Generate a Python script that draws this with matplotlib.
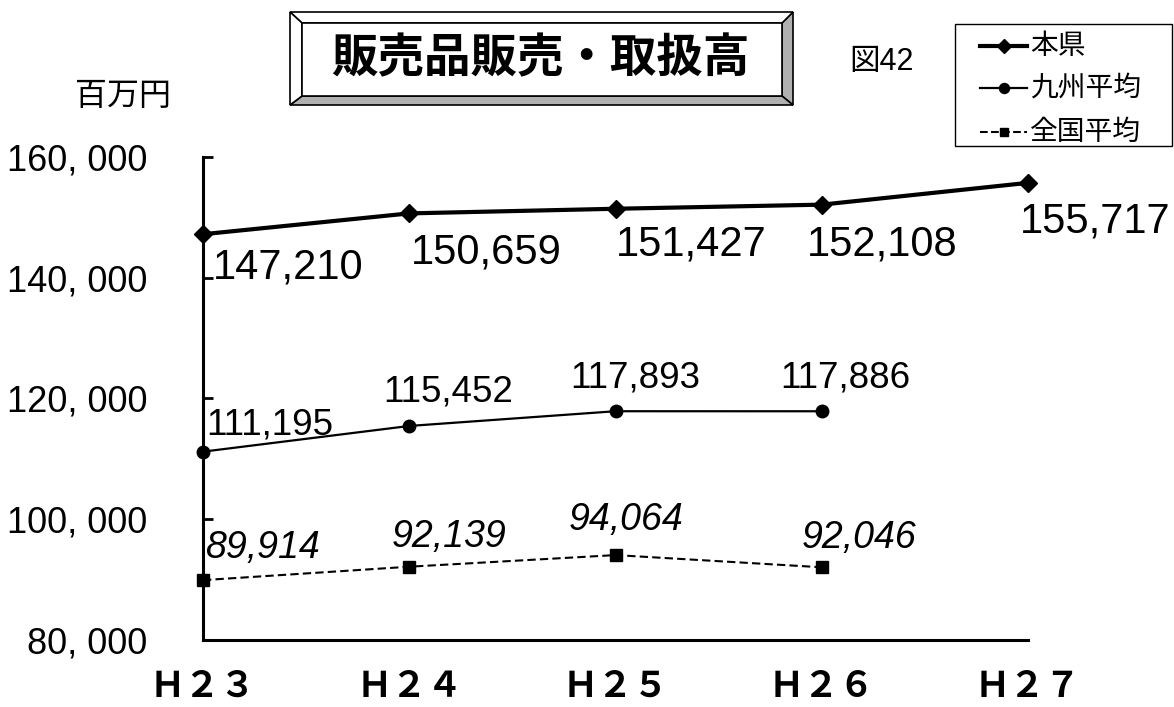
import numpy as np
from matplotlib import pyplot as plt
from matplotlib.lines import Line2D
from matplotlib.patches import Polygon, Rectangle
from matplotlib.ticker import FuncFormatter, FixedLocator

years = ['Ｈ２３', 'Ｈ２４', 'Ｈ２５', 'Ｈ２６', 'Ｈ２７']
honken = [147210, 150659, 151427, 152108, 155717]
kyushu = [111195, 115452, 117893, 117886]
zenkoku = [89914, 92139, 94064, 92046]
y_ticks = [80000, 100000, 120000, 140000, 160000]

series_names = ['本県', '九州平均', '全国平均']

# label offsets in pixels from each point (dx, dy up)
honken_off = [(85, -33), (77, -39), (76, -36), (60, -40), (67, -39)]
kyushu_off = [(67, 27), (39, 34), (20, 33), (24, 33)]
zenkoku_off = [(59, 32), (40, 30), (11, 35), (37, 29)]

W, H = 1174, 707
JP = ['Noto Sans CJK JP', 'DejaVu Sans']
NUM = ['Liberation Sans', 'DejaVu Sans']
NUM_JP = ['Liberation Sans', 'Noto Sans CJK JP', 'DejaVu Sans']

plt.rcParams['font.family'] = NUM
fig = plt.figure(figsize=[W / 100, H / 100], dpi=100)
fig.patch.set_facecolor('w')

x0, x1, y0, y1 = 203, 1028, 640, 157
ax = fig.add_axes([x0 / W, 1 - y0 / H, (x1 - x0) / W, (y0 - y1) / H])
ax.set_xlim(0, 4)
ax.set_ylim(80000, 160000)

x = np.arange(len(years))
l1, = ax.plot(x, honken, c='k', lw=3.0, marker='D', ms=9.5, clip_on=False, zorder=5)
l2, = ax.plot(x[:len(kyushu)], kyushu, c='k', lw=1.6, marker='o', ms=9, clip_on=False, zorder=5)
l3, = ax.plot(x[:len(zenkoku)], zenkoku, c='k', lw=1.5, ls=(0, (4, 2)), marker='s', ms=8,
              clip_on=False, zorder=5)

for i, v in enumerate(honken):
    ax.annotate(f'{v:,}', (x[i], v), xytext=honken_off[i], textcoords='offset pixels',
                ha='center', va='center', fontsize=30, family=NUM)
for i, v in enumerate(kyushu):
    ax.annotate(f'{v:,}', (x[i], v), xytext=kyushu_off[i], textcoords='offset pixels',
                ha='center', va='center', fontsize=26.5, family=NUM)
for i, v in enumerate(zenkoku):
    ax.annotate(f'{v:,}', (x[i], v), xytext=zenkoku_off[i], textcoords='offset pixels',
                ha='center', va='center', fontsize=27, family=NUM, style='italic')

for s in ['top', 'right']:
    ax.spines[s].set_visible(False)
for s in ['left', 'bottom']:
    ax.spines[s].set_linewidth(2.2)

ax.yaxis.set_major_locator(FixedLocator(y_ticks))
ax.yaxis.set_major_formatter(FuncFormatter(lambda v, p: f'{int(v):,}'.replace(',', ', ')))
ax.tick_params(axis='y', direction='in', length=7, width=2, pad=40, labelsize=26)
ax.set_xticks(x)
ax.set_xticklabels(years, family=JP, fontsize=25.5, fontweight='bold')
ax.tick_params(axis='x', length=0, pad=21)

# overlay in pixel coordinates for title box, notes and legend
ov = fig.add_axes([0, 0, 1, 1])
ov.set_xlim(0, W)
ov.set_ylim(H, 0)
ov.axis('off')

ox0, oy0, ox1, oy1 = 290, 12, 793, 105
ix0, iy0, ix1, iy1 = 302, 23, 782, 96
ov.add_patch(Polygon([(ox1, oy0), (ox1, oy1), (ix1, iy1), (ix1, iy0)], closed=True,
                     fc='#b0b0b0', ec='k', lw=1.2))
ov.add_patch(Polygon([(ox0, oy1), (ox1, oy1), (ix1, iy1), (ix0, iy1)], closed=True,
                     fc='#b0b0b0', ec='k', lw=1.2))
ov.add_patch(Polygon([(ox0, oy0), (ox1, oy0), (ix1, iy0), (ix0, iy0)], closed=True,
                     fc='w', ec='k', lw=1.2))
ov.add_patch(Polygon([(ox0, oy0), (ox0, oy1), (ix0, iy1), (ix0, iy0)], closed=True,
                     fc='w', ec='k', lw=1.2))
ov.add_patch(Rectangle((ix0, iy0), ix1 - ix0, iy1 - iy0, fc='w', ec='k', lw=1.2))
ov.text(540, 58, '販売品販売・取扱高', ha='center', va='center', fontsize=33.5,
        fontweight='bold', family=JP)

ov.text(881, 62, '図42', ha='center', va='center', fontsize=22, family=NUM_JP)
ov.text(123, 96, '百万円', ha='center', va='center', fontsize=23, family=JP)

# legend
ov.add_patch(Rectangle((955, 24), 217, 122, fc='w', ec='k', lw=1.0))
handles = [l1, l2, l3]
rows = [46, 88, 132]
for h, name, ry in zip(handles, series_names, rows):
    ov.add_line(Line2D([980, 1027], [ry, ry], c='k', lw=h.get_linewidth(), ls=h.get_linestyle()))
    ov.add_line(Line2D([1003.5], [ry], c='k', marker=h.get_marker(), ms=h.get_markersize() * 0.8))
    ov.text(1030, ry, name, ha='left', va='center', fontsize=20, family=JP)

fig.savefig('out.png', dpi=100)
